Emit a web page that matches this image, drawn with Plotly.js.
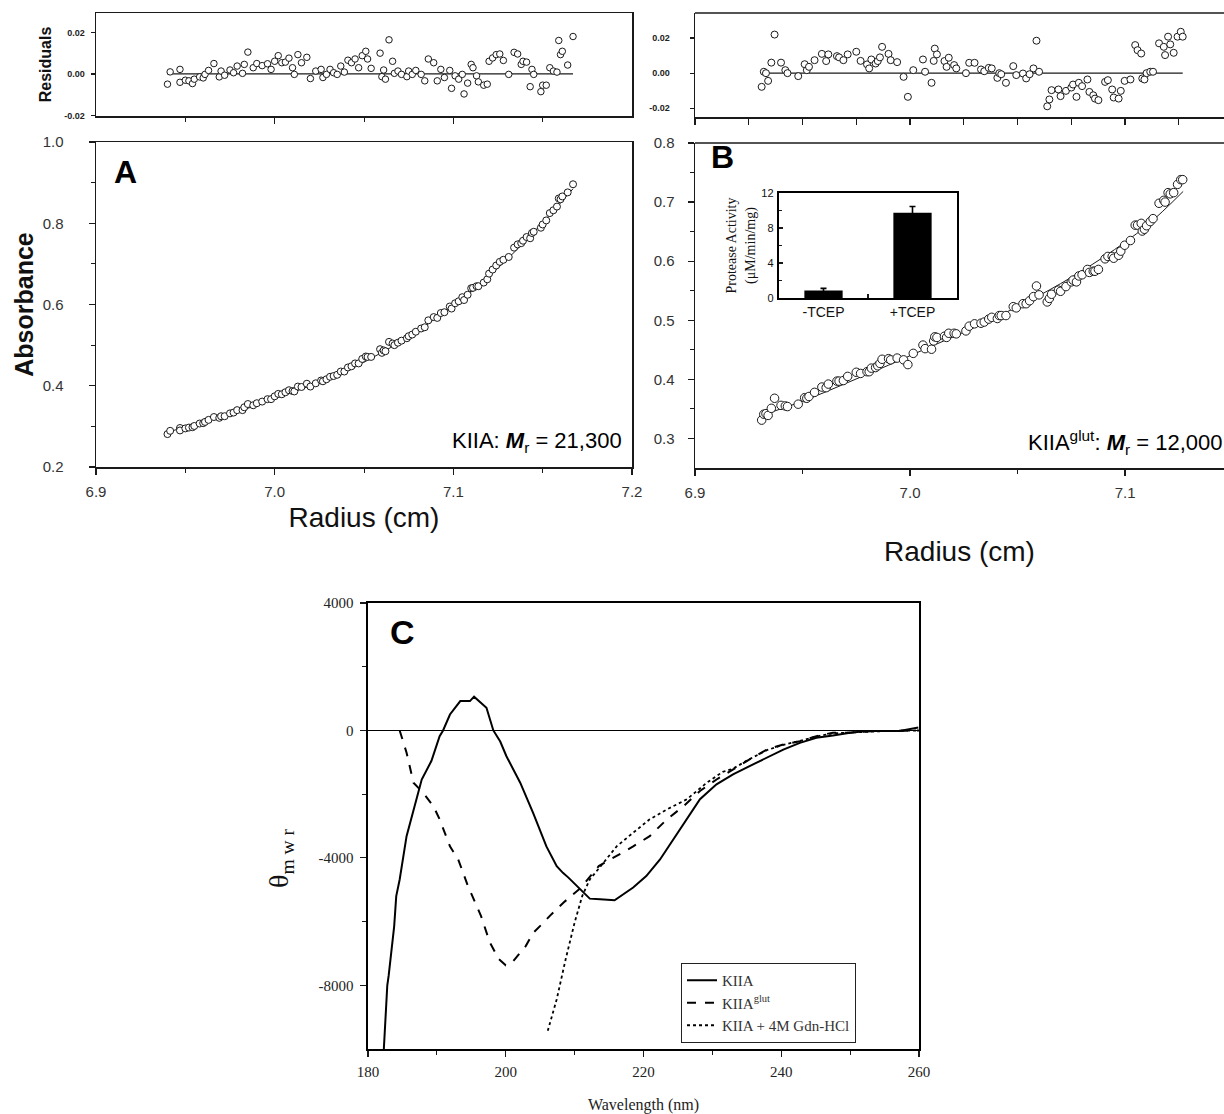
<!DOCTYPE html>
<html><head><meta charset="utf-8">
<script src="https://cdn.plot.ly/plotly-3.0.1.min.js"></script>
<style>html,body{margin:0;padding:0;background:#fff;} #chart{width:1224px;height:1114px;}</style>
</head><body><div id="chart"></div>
<script>
// ---------- Panel A (KIIA) : radius, absorbance, residuals ----------
const rA = [6.940,6.9415,6.947,6.947,6.950,6.952,6.954,6.955,6.958,6.960,6.961,6.963,6.966,6.969,6.970,6.972,6.975,6.977,6.979,6.982,6.983,6.985,6.988,6.990,6.993,6.996,6.998,7.000,7.002,7.004,7.006,7.008,7.010,7.011,7.013,7.015,7.018,7.020,7.023,7.026,7.027,7.029,7.031,7.033,7.035,7.037,7.039,7.041,7.043,7.045,7.047,7.049,7.051,7.052,7.054,7.059,7.060,7.061,7.062,7.064,7.066,7.067,7.069,7.071,7.074,7.075,7.077,7.079,7.082,7.084,7.086,7.089,7.091,7.093,7.095,7.098,7.099,7.101,7.103,7.105,7.106,7.108,7.110,7.111,7.113,7.114,7.117,7.119,7.120,7.122,7.124,7.126,7.128,7.131,7.134,7.136,7.138,7.139,7.141,7.143,7.144,7.145,7.149,7.150,7.152,7.154,7.156,7.158,7.159,7.160,7.161,7.164,7.167];
const absA = [.281,.289,.296,.290,.295,.297,.298,.301,.307,.308,.311,.316,.323,.321,.325,.325,.332,.334,.340,.340,.347,.355,.352,.357,.361,.367,.367,.374,.380,.379,.384,.389,.387,.386,.398,.397,.405,.398,.406,.413,.411,.416,.422,.424,.427,.435,.435,.445,.448,.455,.455,.466,.472,.471,.471,.490,.481,.487,.485,.508,.504,.500,.506,.511,.517,.522,.526,.533,.541,.544,.561,.569,.567,.579,.581,.595,.590,.603,.608,.618,.611,.624,.640,.641,.645,.645,.654,.662,.676,.686,.696,.705,.710,.717,.740,.748,.751,.757,.766,.763,.776,.779,.789,.797,.807,.825,.832,.841,.861,.859,.866,.876,.896];
const resA = [-0.0049,0.0010,0.0022,-0.0040,-0.0030,-0.0033,-0.0046,-0.0025,-0.0014,-0.0019,-0.0002,0.0017,0.0050,-0.0014,0.0014,-0.0006,0.0019,0.0006,0.0038,0.0003,0.0046,0.0105,0.0030,0.0050,0.0040,0.0049,0.0022,0.0061,0.0088,0.0054,0.0057,0.0076,0.0030,-0.0002,0.0093,0.0054,0.0080,-0.0022,0.0014,0.0022,-0.0017,-0.0002,0.0022,0.0006,-0.0002,0.0038,0.0009,0.0066,0.0054,0.0072,0.0030,0.0088,0.0109,0.0072,0.0027,0.0100,-0.0013,0.0019,-0.0025,0.0164,0.0061,0.0003,0.0014,-0.0002,-0.0013,0.0014,-0.0002,0.0017,-0.0002,-0.0033,0.0072,0.0054,-0.0033,0.0022,-0.0017,0.0017,-0.0069,-0.0009,-0.0025,-0.0002,-0.0096,-0.0044,0.0046,0.0030,-0.0009,-0.0038,-0.0054,-0.0049,0.0061,0.0077,0.0093,0.0096,0.0065,-0.0002,0.0104,0.0096,0.0046,0.0061,0.0057,-0.0061,0.0022,-0.0002,-0.0085,-0.0054,-0.0054,0.0030,0.0014,0.0009,0.0161,0.0093,0.0109,0.0043,0.0180];
const fitAr = [6.94,6.96,6.98,7.00,7.02,7.04,7.06,7.08,7.10,7.12,7.14,7.16,7.167];
const fitAv = [0.286,0.310,0.337,0.368,0.400,0.436,0.482,0.534,0.600,0.670,0.755,0.850,0.885];

// ---------- Panel B (KIIA glut) ----------
const rB = [6.931,6.932,6.933,6.934,6.9355,6.937,6.940,6.942,6.943,6.948,6.951,6.952,6.953,6.9556,6.959,6.961,6.962,6.966,6.967,6.969,6.971,6.975,6.977,6.980,6.981,6.982,6.984,6.985,6.986,6.987,6.990,6.991,6.994,6.997,6.999,7.0015,7.006,7.007,7.010,7.011,7.0115,7.0125,7.016,7.017,7.018,7.0205,7.0215,7.026,7.0275,7.030,7.033,7.0345,7.0366,7.038,7.0406,7.0415,7.0424,7.0446,7.048,7.0494,7.0525,7.054,7.0556,7.0574,7.0588,7.060,7.0638,7.0648,7.0658,7.069,7.070,7.0725,7.075,7.0758,7.0774,7.0785,7.080,7.0825,7.0834,7.0852,7.086,7.0876,7.0907,7.092,7.094,7.0947,7.097,7.098,7.0998,7.1025,7.1047,7.1058,7.1075,7.108,7.109,7.110,7.1117,7.113,7.1158,7.118,7.1186,7.120,7.121,7.1226,7.1244,7.1259,7.1268];
const absB = [.331,.341,.342,.339,.351,.368,.356,.355,.354,.358,.369,.368,.371,.378,.387,.386,.392,.397,.397,.398,.405,.412,.410,.413,.413,.419,.420,.423,.427,.434,.435,.433,.436,.433,.425,.444,.458,.452,.451,.465,.472,.471,.473,.471,.478,.478,.477,.482,.490,.494,.495,.497,.502,.505,.503,.508,.508,.508,.523,.521,.528,.528,.533,.540,.558,.543,.531,.537,.544,.551,.549,.557,.565,.568,.565,.575,.577,.586,.581,.583,.583,.586,.604,.608,.608,.605,.610,.617,.627,.635,.661,.661,.664,.651,.654,.660,.667,.672,.698,.703,.700,.716,.714,.716,.730,.738,.738];
const resB = [-0.0078,0.0008,0.0000,-0.0044,0.0060,0.0220,0.0060,0.0017,0.0000,-0.0017,0.0051,0.0017,0.0036,0.0074,0.0110,0.0069,0.0107,0.0097,0.0090,0.0074,0.0107,0.0122,0.0070,0.0050,0.0027,0.0078,0.0055,0.0069,0.0090,0.0150,0.0110,0.0074,0.0063,-0.0021,-0.0135,0.0017,0.0078,0.0008,-0.0055,0.0070,0.0140,0.0107,0.0069,0.0036,0.0088,0.0046,0.0027,0.0000,0.0059,0.0059,0.0021,0.0011,0.0030,0.0027,-0.0027,0.0000,-0.0006,-0.0055,0.0040,-0.0011,-0.0002,-0.0030,-0.0006,0.0027,0.0185,0.0008,-0.0189,-0.0150,-0.0097,-0.0093,-0.0131,-0.0101,-0.0082,-0.0065,-0.0135,-0.0055,-0.0074,-0.0036,-0.0107,-0.0126,-0.0145,-0.0154,-0.0050,-0.0040,-0.0093,-0.0139,-0.0145,-0.0101,-0.0044,-0.0036,0.0160,0.0131,0.0112,-0.0030,-0.0036,0.0000,0.0008,0.0008,0.0170,0.0150,0.0103,0.0208,0.0164,0.0116,0.0208,0.0236,0.0208];
const fitBr = [6.93,6.95,6.97,6.99,7.01,7.03,7.05,7.07,7.09,7.11,7.127];
const fitBv = [0.338,0.363,0.393,0.424,0.456,0.488,0.523,0.562,0.607,0.660,0.718];

// ---------- Inset: protease activity ----------
const insetCats = ['-TCEP','+TCEP'];
const insetVals = [0.85, 9.75];
const insetErr = [0.25, 0.7];

// ---------- Panel C: CD spectra ----------
const wlKIIA = [182.3,182.8,183.0,183.8,184.1,184.6,185.6,186.6,187.8,189.2,190.4,190.9,191.9,193.4,194.8,195.4,197.2,198.2,199.2,200.1,202.1,204.0,205.9,207.4,208.3,209.1,210.8,212.2,213.7,215.8,218.5,220.4,222.4,224.3,226.3,228.2,230.6,233.0,235.4,237.9,240.3,242.7,245.1,247.5,250.0,252.4,254.8,257.2,259.9];
const thKIIA = [-10000,-8000,-7700,-6150,-5200,-4680,-3320,-2480,-1540,-960,-180,0,500,920,920,1060,710,0,-350,-810,-1640,-2600,-3640,-4260,-4470,-4620,-4990,-5280,-5300,-5330,-4930,-4570,-4050,-3420,-2790,-2160,-1690,-1380,-1120,-860,-600,-390,-230,-160,-70,-20,-20,-20,90];
const wlGlut = [184.6,185.6,186.6,188.0,189.5,190.4,191.9,193.1,194.5,196.4,197.7,199.0,200.0,200.9,202.9,204.0,205.5,206.4,208.4,210.8,213.5,216.1,218.5,220.9,223.4,225.8,228.2,230.6,233.0,235.4,237.9,240.3,242.7,245.1,247.5,250.0,252.4,255.0,257.5,260.0];
const thGlut = [0,-700,-1640,-1960,-2380,-2790,-3640,-4050,-4880,-5820,-6660,-7180,-7370,-7290,-6770,-6350,-6030,-5820,-5400,-4960,-4260,-3950,-3640,-3320,-2790,-2380,-1900,-1540,-1220,-910,-600,-440,-340,-180,-70,-70,-30,-20,-20,0];
const wlGdn = [206.1,207.4,208.7,210.0,211.1,212.2,213.9,216.1,218.5,220.9,223.4,226.3,229.2,231.5,233.0,235.4,237.9,240.3,242.7,245.1,247.5,250.0,252.4,255.0,257.5,260.0];
const thGdn = [-9430,-8440,-7180,-6030,-5200,-4680,-4230,-3640,-3210,-2790,-2480,-2160,-1640,-1300,-1200,-900,-620,-450,-330,-190,-90,-60,-30,-20,-10,0];
const seriesNames = ['KIIA','KIIA<sup>glut</sup>','KIIA + 4M Gdn-HCl'];

// ---------- tick labels ----------
const tickAy = [0.2,0.4,0.6,0.8,1.0], tickAyTxt = ['0.2','0.4','0.6','0.8','1.0'];
const tickBy = [0.3,0.4,0.5,0.6,0.7,0.8], tickByTxt = ['0.3','0.4','0.5','0.6','0.7','0.8'];
const tickRx = [6.9,7.0,7.1,7.2], tickRxTxt = ['6.9','7.0','7.1','7.2'];
const tickRes = [-0.02,0,0.02], tickResTxt = ['-0.02','0.00','0.02'];
const tickInY = [0,4,8,12], tickInYTxt = ['0','4','8','12'];
const tickCx = [180,200,220,240,260], tickCxTxt = ['180','200','220','240','260'];
const tickCy = [-8000,-4000,0,4000], tickCyTxt = ['-8000','-4000','0','4000'];

// ---------- layout helpers ----------
const W = 1224, H = 1114;
const dx = (a, b) => [a / W, b / W];
const dy = (top, bottom) => [1 - bottom / H, 1 - top / H];
const INK = '#1a1a1a';
function ax(o) {
  return Object.assign({showgrid:false, zeroline:false, showline:true, linecolor:INK, linewidth:1.5,
    ticks:'outside', tickcolor:INK, tickwidth:1.2, ticklen:6, automargin:false, tickmode:'array'}, o);
}
function minor(vals, len, dir) { return {tickmode:'array', tickvals:vals, ticks:dir||'outside', ticklen:len||4, tickcolor:INK, tickwidth:1, showgrid:false}; }
const narrow = 'Liberation Sans Narrow, Arial Narrow, Liberation Sans, Arial, sans-serif';
const sans = 'Liberation Sans, Arial, sans-serif';
const serif = 'Liberation Serif, Times New Roman, serif';
const openCircle = (s) => ({symbol:'circle', size:s, color:'#fff', line:{color:INK, width:1}});

const traces = [
  // A
  {x:fitAr, y:fitAv, xaxis:'x', yaxis:'y', mode:'lines', line:{color:INK, width:1, shape:'spline'}, showlegend:false, hoverinfo:'skip'},
  {x:rA, y:absA, xaxis:'x', yaxis:'y', mode:'markers', marker:openCircle(7), showlegend:false},
  {x:[rA[0], rA[rA.length-1]], y:[resA[0]*0, resA[0]*0], xaxis:'x2', yaxis:'y2', mode:'lines', line:{color:INK, width:1.3}, showlegend:false, hoverinfo:'skip'},
  {x:rA, y:resA, xaxis:'x2', yaxis:'y2', mode:'markers', marker:openCircle(6.5), showlegend:false},
  // B
  {x:fitBr, y:fitBv, xaxis:'x3', yaxis:'y3', mode:'lines', line:{color:INK, width:1, shape:'spline'}, showlegend:false, hoverinfo:'skip'},
  {x:rB, y:absB, xaxis:'x3', yaxis:'y3', mode:'markers', marker:openCircle(8.5), showlegend:false},
  {x:[rB[0], rB[rB.length-1]], y:[resB[2], resB[2]], xaxis:'x4', yaxis:'y4', mode:'lines', line:{color:INK, width:1.3}, showlegend:false, hoverinfo:'skip'},
  {x:rB, y:resB, xaxis:'x4', yaxis:'y4', mode:'markers', marker:openCircle(7), showlegend:false},
  // inset
  {type:'bar', x:insetCats, y:insetVals, xaxis:'x5', yaxis:'y5', width:0.43, marker:{color:'#000', line:{width:0}},
   error_y:{type:'data', array:insetErr, visible:true, color:'#000', thickness:1.6, width:3}, showlegend:false},
  // C
  {x:wlKIIA, y:thKIIA, xaxis:'x6', yaxis:'y6', mode:'lines', name:seriesNames[0], line:{color:'#000', width:2}},
  {x:wlGlut, y:thGlut, xaxis:'x6', yaxis:'y6', mode:'lines', name:seriesNames[1], line:{color:'#000', width:2, dash:'dash'}},
  {x:wlGdn, y:thGdn, xaxis:'x6', yaxis:'y6', mode:'lines', name:seriesNames[2], line:{color:'#000', width:1.8, dash:'dot'}}
];

const tickFontAB = {family:narrow, size:15, color:'#333'};
const resFont = {family:sans, size:9, color:'#222', weight:'bold'};

const layout = {
  width:W, height:H, margin:{l:0, r:0, t:0, b:0},
  paper_bgcolor:'#fff', plot_bgcolor:'rgba(0,0,0,0)',
  font:{family:sans, color:INK},
  showlegend:true,
  // A main
  xaxis: ax({domain:dx(96,632), anchor:'y', range:[6.9,7.2], tickvals:tickRx, ticktext:tickRxTxt, mirror:true,
    minor:minor([6.95,7.05,7.15]), tickfont:tickFontAB, ticklabelstandoff:4,
    title:{text:'Radius (cm)', font:{family:narrow, size:28, color:'#111'}, standoff:9}}),
  yaxis: ax({domain:dy(142,467), anchor:'x', range:[0.2,1.0], tickvals:tickAy, ticktext:tickAyTxt, mirror:true,
    minor:minor([0.3,0.5,0.7,0.9]), tickfont:tickFontAB, ticklabelstandoff:22,
    title:{text:'<b>Absorbance</b>', font:{family:sans, size:25, color:'#111'}, standoff:2}}),
  // A residuals
  xaxis2: ax({domain:dx(96,632), anchor:'y2', range:[6.9,7.2], tickvals:[7.0,7.1], showticklabels:false, mirror:true,
    minor:minor([6.95,7.05,7.15])}),
  yaxis2: ax({domain:dy(13,116), anchor:'x2', range:[-0.0202,0.0293], tickvals:tickRes, ticktext:tickResTxt, mirror:true,
    ticklen:4, tickfont:resFont, ticklabelstandoff:4,
    title:{text:'<b>Residuals</b>', font:{family:sans, size:16, color:'#111'}, standoff:8}}),
  // B main
  xaxis3: ax({domain:dx(695,1224), anchor:'y3', range:[6.9,7.146], tickvals:tickRx.slice(0,3), ticktext:tickRxTxt.slice(0,3),
    minor:minor([6.95,7.05]), tickfont:tickFontAB, ticklabelstandoff:4,
    title:{text:'Radius (cm)', font:{family:narrow, size:28, color:'#111'}, standoff:42}}),
  yaxis3: ax({domain:dy(143,468), anchor:'x3', range:[0.25,0.8], tickvals:tickBy, ticktext:tickByTxt,
    minor:minor([0.35,0.45,0.55,0.65,0.75]), tickfont:tickFontAB, ticklabelstandoff:10}),
  // B residuals
  xaxis4: ax({domain:dx(695,1224), anchor:'y4', range:[6.9,7.146], tickvals:[6.9,6.925,6.95,6.975,7.0,7.025,7.05,7.075,7.1,7.125], showticklabels:false}),
  yaxis4: ax({domain:dy(13,117), anchor:'x4', range:[-0.025,0.0343], tickvals:tickRes, ticktext:tickResTxt,
    ticklen:4, tickfont:resFont, ticklabelstandoff:18}),
  // inset
  xaxis5: ax({domain:dx(779,957), anchor:'y5', type:'category', categoryorder:'array', categoryarray:insetCats, range:[-0.5,1.5],
    tickmode:'auto', tickson:'boundaries', ticks:'inside', ticklen:4, linewidth:2.2, linecolor:'#000', mirror:true,
    tickfont:{family:sans, size:14, color:'#111'}}),
  yaxis5: ax({domain:dy(193,298), anchor:'x5', range:[0,12], tickvals:tickInY, ticktext:tickInYTxt, ticks:'inside', ticklen:4,
    linewidth:2.2, linecolor:'#000', mirror:true, minor:minor([2,6,10],3,'inside'),
    tickfont:{family:sans, size:11, color:'#111'}, ticklabelstandoff:1,
    title:{text:'Protease Activity<br>(\u03bcM/min/mg)', font:{family:serif, size:14, color:'#111'}, standoff:3}}),
  // C
  xaxis6: ax({domain:dx(368,919), anchor:'y6', range:[180,260], tickvals:tickCx, ticktext:tickCxTxt, mirror:true,
    linecolor:'#000', linewidth:1.6, minor:minor([190,210,230,250]), tickfont:{family:serif, size:15, color:'#222'},
    ticklabelstandoff:2, title:{text:'Wavelength (nm)', font:{family:serif, size:16, color:'#222'}, standoff:22}}),
  yaxis6: ax({domain:dy(603,1049), anchor:'x6', range:[-10000,4000], tickvals:tickCy, ticktext:tickCyTxt, mirror:true,
    linecolor:'#000', linewidth:1.6, minor:minor([-6000,-2000,2000]), tickfont:{family:serif, size:15, color:'#222'},
    ticklabelstandoff:4, zeroline:true, zerolinecolor:'#000', zerolinewidth:1.4}),
  legend:{x:681/W, y:1-963/H, xanchor:'left', yanchor:'top', bordercolor:'#222', borderwidth:1, bgcolor:'#fff',
    font:{family:serif, size:15, color:'#333'}, itemwidth:30, tracegroupgap:0},
  shapes:[
    {type:'line', xref:'paper', yref:'paper', x0:695/W, x1:1, y0:1-143/H, y1:1-143/H, line:{color:INK, width:1.5}},
    {type:'line', xref:'paper', yref:'paper', x0:695/W, x1:1, y0:1-13/H, y1:1-13/H, line:{color:INK, width:1.5}}
  ],
  annotations:[
    {text:'<b>A</b>', xref:'paper', yref:'paper', x:112/W, y:1-172/H, xanchor:'left', yanchor:'middle', showarrow:false, font:{family:sans, size:32, color:'#000'}},
    {text:'<b>B</b>', xref:'paper', yref:'paper', x:709/W, y:1-157/H, xanchor:'left', yanchor:'middle', showarrow:false, font:{family:sans, size:32, color:'#000'}},
    {text:'<b>C</b>', xref:'paper', yref:'paper', x:388/W, y:1-632/H, xanchor:'left', yanchor:'middle', showarrow:false, font:{family:sans, size:34, color:'#000'}},
    {text:'KIIA: <b><i>M</i></b><sub>r</sub> = 21,300', xref:'paper', yref:'paper', x:624/W, y:1-442/H, xanchor:'right', yanchor:'middle', showarrow:false, font:{family:narrow, size:22, color:'#000'}},
    {text:'KIIA<sup>glut</sup>: <b><i>M</i></b><sub>r</sub> = 12,000', xref:'paper', yref:'paper', x:1, y:1-442/H, xanchor:'right', yanchor:'middle', showarrow:false, font:{family:narrow, size:22, color:'#000'}},
    {text:'\u03b8<sub>m w r</sub>', xref:'paper', yref:'paper', x:280/W, y:1-858/H, xanchor:'center', yanchor:'middle', textangle:-90, showarrow:false, font:{family:serif, size:28, color:'#111'}}
  ]
};

Plotly.newPlot('chart', traces, layout, {displayModeBar:false, staticPlot:true});
</script></body></html>
